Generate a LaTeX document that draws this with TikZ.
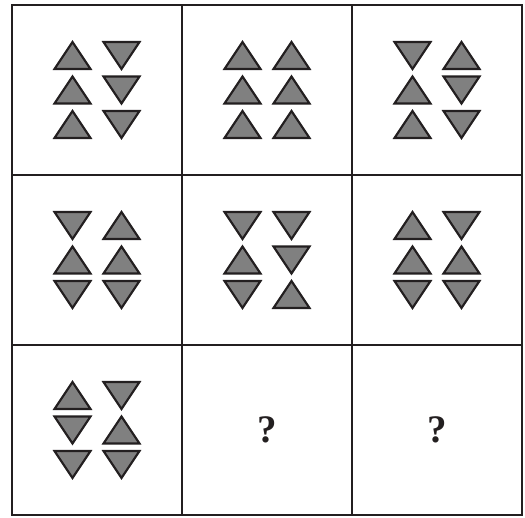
\documentclass[tikz,border=0pt]{standalone}
\usepackage{fontspec}
\setmainfont{Liberation Serif}
\usetikzlibrary{positioning}

\definecolor{ink}{HTML}{231F20}
\definecolor{trigray}{HTML}{808080}

\begin{document}
\begin{tikzpicture}[
    x=1pt, y=-1pt,
    cell/.style={draw=ink, line width=2.9pt, minimum width=170pt, minimum height=170pt,
                 inner sep=0pt, outer sep=0pt},
    tri/.style={draw=ink, fill=trigray, line width=2.1pt},
    ask/.style={font=\fontsize{39}{42}\selectfont\bfseries, text=ink},
    uptri/.pic={\draw[tri] (-18,13.5) -- (18,13.5) -- (0,-13.5) -- cycle;},
    downtri/.pic={\draw[tri] (-18,-13.5) -- (18,-13.5) -- (0,13.5) -- cycle;},
]
  \fill[white] (0,0) rectangle (525,518);
  \useasboundingbox (0,0) rectangle (525,518);

  \foreach \r in {1,2,3}
    \foreach \c in {1,2,3}
      \node[cell] (c\r\c) at ({12+170*(\c-0.5)}, {5+170*(\r-0.5)}) {};

  \foreach \cn/\la/\lb/\lc/\ra/\rb/\rc in {
      c11/uptri/uptri/uptri/downtri/downtri/downtri,
      c12/uptri/uptri/uptri/uptri/uptri/uptri,
      c13/downtri/uptri/uptri/uptri/downtri/downtri,
      c21/downtri/uptri/downtri/uptri/uptri/downtri,
      c22/downtri/uptri/downtri/downtri/downtri/uptri,
      c23/uptri/uptri/downtri/downtri/uptri/downtri,
      c31/uptri/downtri/downtri/downtri/uptri/downtri} {
    \pic[shift={(-24.5,-34.5)}] at (\cn) {\la};
    \pic[shift={(-24.5,0)}] at (\cn) {\lb};
    \pic[shift={(-24.5,34.5)}] at (\cn) {\lc};
    \pic[shift={(24.5,-34.5)}] at (\cn) {\ra};
    \pic[shift={(24.5,0)}] at (\cn) {\rb};
    \pic[shift={(24.5,34.5)}] at (\cn) {\rc};
  }

  \node[ask] (q32) at (c32) {?};
  \node[ask] (q33) at (c33) {?};
\end{tikzpicture}
\end{document}
